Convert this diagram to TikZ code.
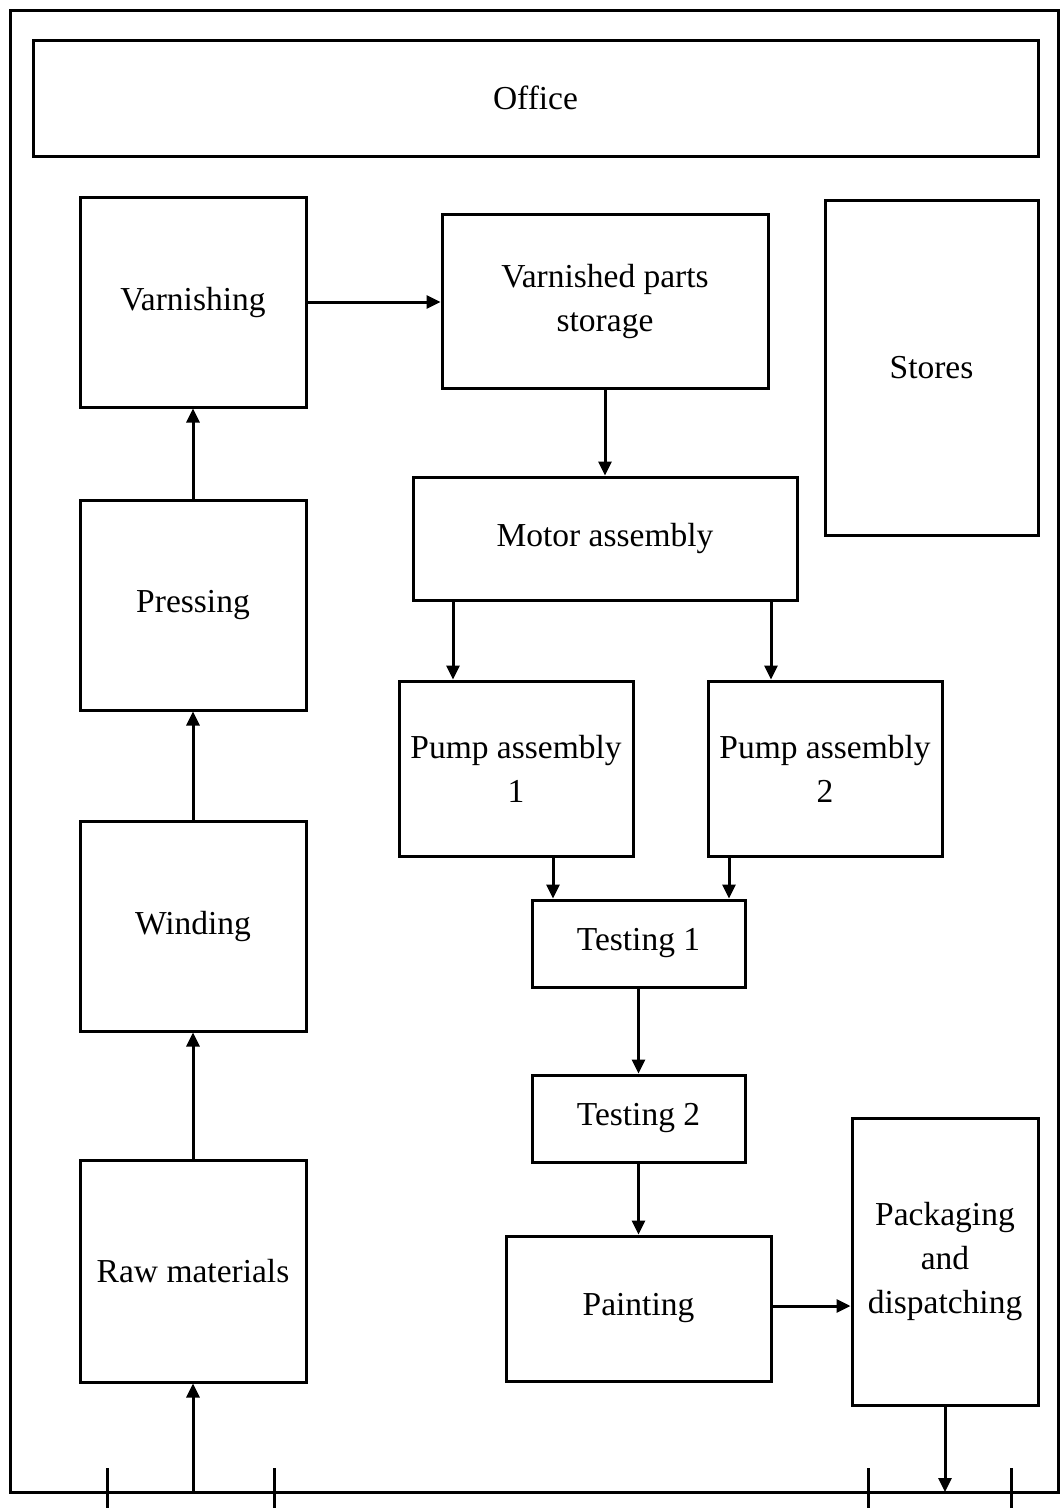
\documentclass[tikz,border=0pt]{standalone}
\usepackage{fontspec}
\setmainfont{Liberation Serif}
\usetikzlibrary{arrows.meta}
\begin{document}
\begin{tikzpicture}[x=1pt,y=-1pt,
  line width=3pt,
  box/.style={draw=black, line width=3pt, inner sep=0pt, align=center,
    font=\fontsize{33.5}{44}\selectfont},
  flow/.style={-{Triangle[length=14pt,width=13pt]}, line width=3pt}]
\useasboundingbox (0,0) rectangle (1060,1508);

% plant boundary and wall marks
\draw (10,10) rectangle (1058,1492);
\foreach \tx in {107,274,868,1011} \draw (\tx,1468) -- (\tx,1508);

% departments
\node[box, minimum width=1005pt, minimum height=116pt] (office) at (535.5,98) {Office};
\node[box, minimum width=226pt, minimum height=210pt] (varn) at (193,302) {Varnishing};
\node[box, minimum width=226pt, minimum height=210pt] (press) at (193,605) {Pressing};
\node[box, minimum width=226pt, minimum height=210pt] (wind) at (193,926) {Winding};
\node[box, minimum width=226pt, minimum height=222pt] (raw) at (193,1271) {Raw materials};
\node[box, minimum width=326pt, minimum height=174pt] (vstore) at (605,301) {Varnished parts\\storage};
\node[box, minimum width=213pt, minimum height=335pt] (stores) at (931.5,367.5) {Stores};
\node[box, minimum width=384pt, minimum height=123pt] (motor) at (605,538.5) {Motor assembly};
\node[box, minimum width=234pt, minimum height=175pt] (pumpa) at (516,768.5) {Pump assembly\\1};
\node[box, minimum width=234pt, minimum height=175pt] (pumpb) at (825,768.5) {Pump assembly\\2};
\node[box, minimum width=213pt, minimum height=87pt] (testa) at (638.5,943.5) {Testing 1};
\node[box, minimum width=213pt, minimum height=87pt] (testb) at (638.5,1118.5) {Testing 2};
\node[box, minimum width=265pt, minimum height=145pt] (paint) at (638.5,1308.5) {Painting};
\node[box, minimum width=186pt, minimum height=287pt] (pack) at (945,1261.5) {Packaging\\and\\dispatching};

% entry and exit points on the boundary
\coordinate (gatein) at (193,1492);
\coordinate (gateout) at (945,1492);
\coordinate (xa) at (453,0);
\coordinate (xb) at (771,0);
\coordinate (xc) at (553,0);
\coordinate (xd) at (729,0);

% material flow
\draw[flow] (gatein) -- (raw.south);
\draw[flow] (raw.north) -- (wind.south);
\draw[flow] (wind.north) -- (press.south);
\draw[flow] (press.north) -- (varn.south);
\draw[flow] (varn.east) -- (vstore.west |- varn.east);
\draw[flow] (vstore.south) -- (motor.north);
\draw[flow] (motor.south -| xa) -- (pumpa.north -| xa);
\draw[flow] (motor.south -| xb) -- (pumpb.north -| xb);
\draw[flow] (pumpa.south -| xc) -- (testa.north -| xc);
\draw[flow] (pumpb.south -| xd) -- (testa.north -| xd);
\draw[flow] (testa.south) -- (testb.north);
\draw[flow] (testb.south) -- (paint.north);
\draw[flow] (paint.east |- 0,1306) -- (pack.west |- 0,1306);
\draw[flow] (pack.south) -- (gateout);
\end{tikzpicture}
\end{document}
